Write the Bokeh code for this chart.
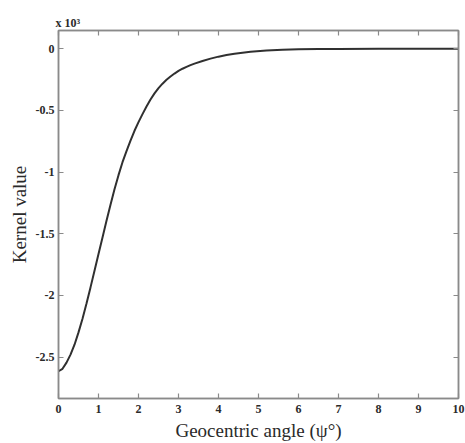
from bokeh.plotting import figure
from bokeh.models import LinearAxis, FixedTicker, Range1d, Title, CustomJSTickFormatter
from bokeh.embed import file_html
from bokeh.resources import INLINE

# Data (kernel value, x 10^3)
angle = [0.0, 0.1, 0.2, 0.3, 0.4, 0.5, 0.6, 0.7, 0.8, 0.9, 1.0, 1.1, 1.2, 1.3, 1.4,
         1.5, 1.6, 1.7, 1.8, 1.9, 2.0, 2.1, 2.2, 2.3, 2.4, 2.5, 2.6, 2.7, 2.8, 2.9,
         3.0, 3.1, 3.2, 3.3, 3.4, 3.6, 3.8, 4.0, 4.2, 4.4, 4.8, 5.2, 5.6, 6.0, 6.5,
         7.0, 8.0, 9.0, 10.0]
kernel = [-2.615, -2.595, -2.545, -2.48, -2.40, -2.30, -2.19, -2.065, -1.935, -1.80,
          -1.665, -1.53, -1.395, -1.265, -1.14, -1.025, -0.92, -0.83, -0.745, -0.665,
          -0.595, -0.530, -0.468, -0.412, -0.362, -0.319, -0.283, -0.252, -0.225,
          -0.201, -0.180, -0.162, -0.147, -0.133, -0.121, -0.099, -0.080, -0.064,
          -0.051, -0.040, -0.025, -0.015, -0.009, -0.005, -0.0025, -0.001, -0.0002,
          0.0, 0.0]
x_ticks = [0, 1, 2, 3, 4, 5, 6, 7, 8, 9, 10]
y_ticks = [0, -0.5, -1, -1.5, -2, -2.5]
scale_text = "x 10³"

FONT = "Liberation Serif"
GRAY = "#8a8a8a"
TXT = "#2a2a2a"

p = figure(width=465, height=443, output_backend="svg", toolbar_location=None,
           x_range=Range1d(0, 10), y_range=Range1d(-2.836, 0.148),
           min_border_left=58, min_border_right=7, min_border_top=30,
           min_border_bottom=45, x_axis_location=None, y_axis_location=None)
p.grid.visible = False
p.background_fill_color = "white"
p.border_fill_color = "white"
p.outline_line_color = GRAY
p.outline_line_width = 1.5

p.line(angle, kernel, line_color="#303030", line_width=2)

yfmt = CustomJSTickFormatter(code="return (Math.round(tick*10)/10).toString();")
blank = CustomJSTickFormatter(code="return '';")

def style(ax, show_labels):
    ax.axis_line_color = GRAY
    ax.axis_line_width = 1.5
    ax.major_tick_line_color = GRAY
    ax.major_tick_line_width = 1.2
    ax.major_tick_in = 5
    ax.major_tick_out = 0
    ax.minor_tick_line_color = None
    ax.major_label_text_font = FONT
    ax.major_label_text_font_size = "12px"
    ax.major_label_text_font_style = "bold"
    ax.major_label_text_color = TXT
    ax.axis_label_text_font = FONT
    ax.axis_label_text_font_size = "19px"
    ax.axis_label_text_font_style = "normal"
    ax.axis_label_text_color = TXT
    if not show_labels:
        ax.formatter = blank
        ax.major_label_standoff = 0
        ax.major_label_text_font_size = "1px"

xb = LinearAxis(ticker=FixedTicker(ticks=x_ticks), axis_label="Geocentric angle (ψ°)")
style(xb, True)
xb.major_label_standoff = 6
xb.axis_label_standoff = 4
p.add_layout(xb, "below")

yl = LinearAxis(ticker=FixedTicker(ticks=y_ticks), axis_label="Kernel value", formatter=yfmt)
style(yl, True)
yl.major_label_standoff = 4
yl.axis_label_standoff = 3
p.add_layout(yl, "left")

xt = LinearAxis(ticker=FixedTicker(ticks=x_ticks))
style(xt, False)
p.add_layout(xt, "above")

yr = LinearAxis(ticker=FixedTicker(ticks=y_ticks))
style(yr, False)
p.add_layout(yr, "right")

p.add_layout(Title(text=scale_text, align="left", offset=-3, standoff=2,
                   text_font=FONT, text_font_size="12px", text_font_style="bold",
                   text_color=TXT), "above")

open("out.html", "w").write(file_html(p, INLINE))
